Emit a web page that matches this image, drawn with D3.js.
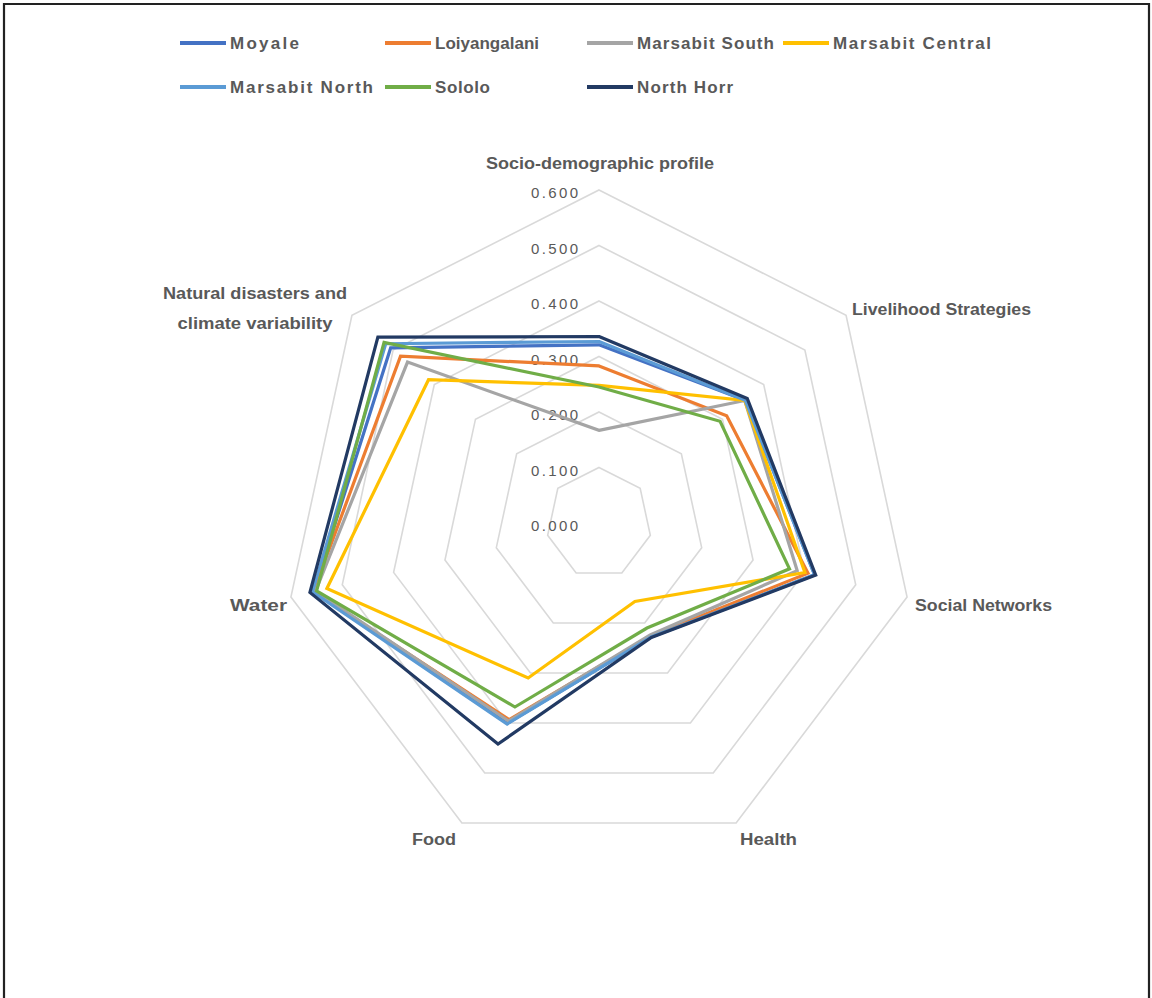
<!DOCTYPE html>
<html>
<head>
<meta charset="utf-8">
<script src="https://cdn.jsdelivr.net/npm/d3@7"></script>
<style>
  html, body { margin: 0; padding: 0; background: #fff; }
  svg { display: block; }
  .lbl { font-family: "Liberation Sans", "DejaVu Sans", sans-serif; font-weight: bold; fill: #595959; }
  .tick { font-family: "Liberation Sans", "DejaVu Sans", sans-serif; fill: #595959; }
</style>
</head>
<body>
<svg id="chart" width="1152" height="998"></svg>
<script>
// Dimensions of the vulnerability index, clockwise from the top
const axes = [
  "Socio-demographic profile",
  "Livelihood Strategies",
  "Social Networks",
  "Health",
  "Food",
  "Water",
  "Natural disasters and climate variability"
];

// Sub-county names (in plotting order) and their index values per dimension
const seriesNames = ["Moyale", "Loiyangalani", "Marsabit South", "Marsabit Central", "Marsabit North", "Sololo", "North Horr"];
const moyale          = [0.321, 0.355, 0.420, 0.228, 0.400, 0.556, 0.506];
const loiyangalani    = [0.283, 0.310, 0.407, 0.226, 0.393, 0.556, 0.482];
const marsabitSouth   = [0.167, 0.354, 0.386, 0.224, 0.396, 0.552, 0.465];
const marsabitCentral = [0.248, 0.354, 0.401, 0.157, 0.310, 0.530, 0.414];
const marsabitNorth   = [0.327, 0.355, 0.420, 0.228, 0.402, 0.558, 0.518];
const sololo          = [0.245, 0.294, 0.371, 0.210, 0.368, 0.550, 0.522];
const northHorr       = [0.336, 0.360, 0.422, 0.229, 0.442, 0.563, 0.537];
const seriesValues = [moyale, loiyangalani, marsabitSouth, marsabitCentral, marsabitNorth, sololo, northHorr];
const seriesColors = ["#4472C4", "#ED7D31", "#A5A5A5", "#FFC000", "#5B9BD5", "#70AD47", "#223A63"];

// Radial axis ticks
const tickValues = [0, 0.1, 0.2, 0.3, 0.4, 0.5, 0.6];
const tickLabels = ["0.000", "0.100", "0.200", "0.300", "0.400", "0.500", "0.600"];

const svg = d3.select("#chart");
const cx = 599, cy = 523;
// The plot area is slightly narrower than it is tall
const rx = d3.scaleLinear().domain([0, 0.6]).range([0, 316]);
const ry = d3.scaleLinear().domain([0, 0.6]).range([0, 333]);
const angle = d3.scalePoint().domain(d3.range(axes.length)).range([0, 2 * Math.PI * (axes.length - 1) / axes.length]);

const radar = d3.line()
  .x((d, i) => rx(d) * Math.sin(angle(i)))
  .y((d, i) => -ry(d) * Math.cos(angle(i)))
  .curve(d3.curveLinearClosed);

// Chart border
svg.append("path")
  .attr("d", "M4,998 L4,4 L1149,4 L1149,998")
  .attr("fill", "none").attr("stroke", "#222").attr("stroke-width", 2.2);

const g = svg.append("g").attr("transform", `translate(${cx},${cy})`);

// Heptagonal grid rings
g.append("g").selectAll("path")
  .data(tickValues.filter(v => v > 0))
  .join("path")
  .attr("d", v => radar(axes.map(() => v)))
  .attr("fill", "none")
  .attr("stroke", "#d9d9d9")
  .attr("stroke-width", 1.6);

// Tick labels along the top axis
g.append("g").selectAll("text")
  .data(tickValues)
  .join("text")
  .attr("class", "tick")
  .attr("x", -21)
  .attr("y", v => -ry(v) + 3)
  .attr("dy", "0.35em")
  .attr("text-anchor", "end")
  .attr("font-size", 15)
  .attr("textLength", 47)
  .attr("lengthAdjust", "spacing")
  .text((v, i) => tickLabels[i]);

// Series polygons
g.append("g").selectAll("path")
  .data(seriesValues)
  .join("path")
  .attr("d", d => radar(d))
  .attr("fill", "none")
  .attr("stroke", (d, i) => seriesColors[i])
  .attr("stroke-width", 3.2)
  .attr("stroke-linejoin", "miter");

// Category labels
const catLabels = [
  { lines: [axes[0]], x: 600, y: 163, anchor: "middle", len: [228] },
  { lines: [axes[1]], x: 852, y: 309, anchor: "start", len: [179] },
  { lines: [axes[2]], x: 915, y: 605, anchor: "start", len: [137] },
  { lines: [axes[3]], x: 740, y: 839, anchor: "start", len: [57] },
  { lines: [axes[4]], x: 412, y: 839, anchor: "start", len: [44] },
  { lines: [axes[5]], x: 230, y: 605, anchor: "start", len: [57] },
  { lines: ["Natural disasters and", "climate variability"], x: 255, y: 293, anchor: "middle", len: [184, 155] }
];
const lab = svg.append("g");
catLabels.forEach(c => {
  c.lines.forEach((t, k) => {
    lab.append("text")
      .attr("class", "lbl")
      .attr("x", c.x)
      .attr("y", c.y + k * 30)
      .attr("dy", "0.35em")
      .attr("text-anchor", c.anchor)
      .attr("font-size", 16)
      .attr("textLength", c.len[k])
      .attr("lengthAdjust", "spacingAndGlyphs")
      .text(t);
  });
});

// Legend
const legendPos = [[180, 43], [385, 43], [587, 43], [783, 43], [180, 87], [385, 87], [587, 87]];
const legendLen = [69, 104, 137, 158, 143, 55, 96];
const leg = svg.append("g").selectAll("g")
  .data(seriesNames)
  .join("g")
  .attr("transform", (d, i) => `translate(${legendPos[i][0]},${legendPos[i][1]})`);
leg.append("line")
  .attr("x1", 0).attr("x2", 46).attr("y1", 0).attr("y2", 0)
  .attr("stroke", (d, i) => seriesColors[i])
  .attr("stroke-width", 4);
leg.append("text")
  .attr("class", "lbl")
  .attr("x", 50)
  .attr("dy", "0.35em")
  .attr("font-size", 17)
  .attr("textLength", (d, i) => legendLen[i])
  .attr("lengthAdjust", "spacing")
  .text(d => d);
</script>
</body>
</html>
